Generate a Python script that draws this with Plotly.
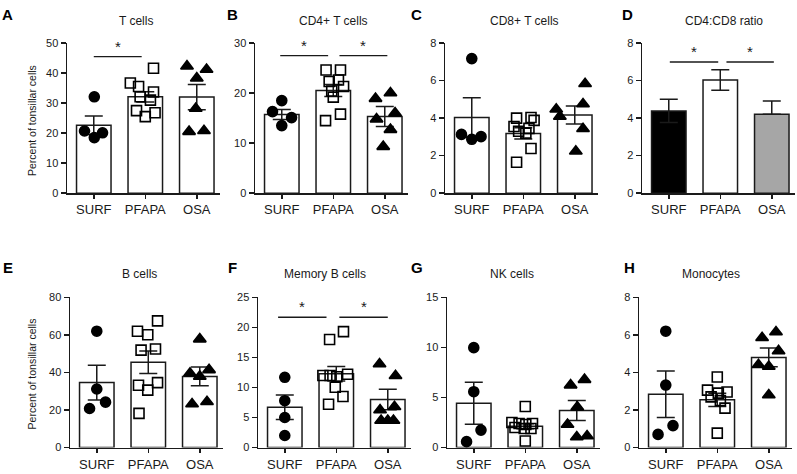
import plotly.graph_objects as go

OFF = 0
W, H = 797, 474
groups = ["SURF", "PFAPA", "OSA"]

# ---------------- data ----------------
# A  T cells
a_mean = [22.6, 32.1, 32.0]
a_sem = [3.1, 1.7, 4.2]
a_surf = [32.1, 20.7, 20.1, 18.5]
a_pfapa = [41.6, 36.7, 35.5, 33.7, 32.1, 31.0, 27.5, 26.8, 25.5]
a_osa = [42.3, 41.2, 38.3, 28.2, 20.5, 20.8]
# B  CD4+ T cells
b_mean = [15.7, 20.5, 15.3]
b_sem = [1.0, 1.2, 2.0]
b_surf = [18.5, 16.3, 15.1, 13.5]
b_pfapa = [24.6, 24.6, 22.3, 22.6, 21.3, 20.4, 19.2, 14.5, 15.8]
b_osa = [18.9, 20.0, 14.8, 12.7, 9.3, 16.0]
# C  CD8+ T cells
c_mean = [4.03, 3.18, 4.17]
c_sem = [1.05, 0.3, 0.48]
c_surf = [7.17, 3.13, 2.87, 3.01]
c_pfapa = [4.0, 4.03, 3.88, 3.55, 3.45, 3.3, 3.2, 2.38, 1.65]
c_osa = [5.83, 4.47, 4.75, 4.09, 3.43, 2.23]
# D  CD4:CD8 ratio (upper SEM only drawn on the grey bar)
d_mean = [4.38, 6.03, 4.21]
d_sem_up = [0.62, 0.55, 0.7]
d_sem_down = [0.62, 0.55, 0.0]
# E  B cells
e_mean = [34.6, 45.5, 37.9]
e_sem = [9.3, 6.0, 5.0]
e_surf = [62.0, 31.2, 24.2, 20.8]
e_pfapa = [67.5, 62.0, 60.1, 51.9, 52.5, 33.2, 34.6, 30.6, 18.2]
e_osa = [57.8, 39.6, 41.4, 37.9, 23.2, 24.4]
# F  Memory B cells
f_mean = [6.7, 12.3, 8.0]
f_sem = [2.05, 1.2, 1.7]
f_surf = [11.7, 7.8, 5.0, 2.0]
f_pfapa = [18.0, 19.3, 12.0, 12.0, 11.8, 12.2, 10.05, 7.2, 8.5]
f_osa = [13.9, 11.95, 6.25, 6.8, 4.5, 4.5, 4.5]
# G  NK cells
g_mean = [4.43, 2.13, 3.71]
g_sem = [2.1, 0.25, 1.0]
g_surf = [9.98, 5.58, 1.74, 0.59]
g_pfapa = [4.1, 2.5, 2.4, 2.3, 2.4, 2.0, 1.9, 1.9, 0.66]
g_osa = [6.24, 6.79, 4.04, 2.3, 1.05, 1.15]
# H  Monocytes
h_mean = [2.84, 2.54, 4.8]
h_sem = [1.24, 0.35, 0.5]
h_surf = [6.2, 3.33, 1.17, 0.70]
h_pfapa = [3.76, 3.06, 2.9, 2.96, 2.7, 2.5, 2.1, 0.77]
h_osa = [5.85, 6.16, 5.15, 4.41, 4.32, 2.8]

# horizontal scatter offsets (category units) of the dots
a_off = [[0.01, -0.18, 0.17, 0.01], [0.16, -0.29, -0.13, 0.16, -0.10, 0.10, -0.17, 0.19, 0.0], [-0.19, 0.19, 0.0, -0.02, -0.15, 0.14]]
b_off = [[0.0, -0.18, 0.19, 0.0], [-0.14, 0.14, -0.08, 0.10, 0.20, -0.03, 0.0, -0.15, 0.14], [-0.18, 0.11, -0.16, 0.11, -0.03, 0.2]]
c_off = [[0.0, -0.2, 0.0, 0.18], [-0.13, 0.15, 0.21, -0.18, 0.11, -0.09, 0.05, 0.15, -0.13], [0.2, -0.36, 0.16, -0.29, 0.16, 0.02]]
e_off = [[0.0, 0.0, 0.17, -0.14], [0.18, -0.21, -0.01, -0.14, 0.14, -0.19, 0.18, -0.01, -0.18], [0.0, -0.19, 0.18, 0.0, -0.15, 0.14]]
f_off = [[0.0, 0.0, 0.0, 0.0], [-0.13, 0.14, -0.26, -0.12, 0.01, 0.22, -0.02, -0.15, 0.13], [-0.16, 0.15, -0.15, 0.13, -0.13, 0.0, 0.11]]
g_off = [[0.0, 0.0, 0.14, -0.14], [0.0, -0.26, -0.12, 0.01, 0.14, -0.2, -0.02, 0.11, 0.0], [-0.12, 0.15, 0.01, -0.18, 0.0, 0.2]]
h_off = [[0.0, 0.0, 0.14, -0.15], [0.0, -0.19, 0.02, 0.19, -0.12, 0.06, 0.15, 0.0], [-0.13, 0.14, 0.19, -0.2, 0.0, 0.0]]

titles = ["T cells", "CD4+ T cells", "CD8+ T cells", "CD4:CD8 ratio",
          "B cells", "Memory B cells", "NK cells", "Monocytes"]
letters = ["A", "B", "C", "D", "E", "F", "G", "H"]
y_max = [50, 30, 8, 8, 80, 25, 15, 8]
y_dtick = [10, 10, 2, 2, 20, 5, 5, 2]

panels = [
    (a_mean, a_sem, a_sem, [a_surf, a_pfapa, a_osa], a_off),
    (b_mean, b_sem, b_sem, [b_surf, b_pfapa, b_osa], b_off),
    (c_mean, c_sem, c_sem, [c_surf, c_pfapa, c_osa], c_off),
    (d_mean, d_sem_up, d_sem_down, None, None),
    (e_mean, e_sem, e_sem, [e_surf, e_pfapa, e_osa], e_off),
    (f_mean, f_sem, f_sem, [f_surf, f_pfapa, f_osa], f_off),
    (g_mean, g_sem, g_sem, [g_surf, g_pfapa, g_osa], g_off),
    (h_mean, h_sem, h_sem, [h_surf, h_pfapa, h_osa], h_off),
]


def px(xp):
    return (xp - OFF) / W


def py(yp):
    return 1 - (yp - OFF) / H


# ---------------- layout geometry (window pixels) ----------------
x_start = [67, 255, 445, 642, 70, 258, 447, 639]
row_top = [38, 38, 38, 38, 299, 299, 299, 299]
row_bot = [192, 192, 192, 192, 453, 453, 453, 453]
unit_px = 51.5
x_lo, x_hi = -0.52, 2.45

INK = "#1a1a1a"
FONT = "Liberation Sans, Arial, sans-serif"

fig = go.Figure()
layout = dict(width=W, height=H, margin=dict(l=0, r=0, t=0, b=0),
              paper_bgcolor="white", plot_bgcolor="white", showlegend=False,
              font=dict(family=FONT, color=INK), shapes=[], annotations=[])

symbols = ["circle", "square-open", "triangle-up"]

for i, (mean, sem_up, sem_dn, pts, offs) in enumerate(panels):
    k = "" if i == 0 else str(i + 1)
    xa, ya = "x" + k, "y" + k
    x0 = x_start[i]
    x1 = min(x0 + (x_hi - x_lo) * unit_px, 796)
    layout["xaxis" + k] = dict(
        domain=[px(x0), px(x1)], range=[x_lo, x_lo + (x1 - x0) / unit_px], anchor=ya,
        tickvals=[0, 1, 2], ticktext=groups, ticks="outside", ticklen=4,
        tickwidth=1.5, tickcolor=INK, showline=True, linecolor=INK,
        linewidth=1.5, showgrid=False, zeroline=False,
        tickfont=dict(size=13, color=INK, family=FONT), fixedrange=True)
    layout["yaxis" + k] = dict(
        domain=[py(row_bot[i]), py(row_top[i])], range=[0, y_max[i]],
        anchor=xa, dtick=y_dtick[i], tick0=0, ticks="outside", ticklen=5,
        tickwidth=1.5, tickcolor=INK, showline=True, linecolor=INK,
        linewidth=1.5, showgrid=False, zeroline=False,
        tickfont=dict(size=11, color=INK, family=FONT), fixedrange=True)

    fills = ["black", "white", "#a6a6a6"] if letters[i] == "D" else ["white"] * 3
    fig.add_trace(go.Bar(
        x=[0, 1, 2], y=mean, width=0.67, xaxis=xa, yaxis=ya,
        marker=dict(color=fills, line=dict(color=INK, width=1.5)),
        error_y=dict(type="data", symmetric=False, array=sem_up,
                     arrayminus=sem_dn, color=INK, thickness=1.5, width=9)))

    if pts is not None:
        for g in range(3):
            fig.add_trace(go.Scatter(
                x=[g + o for o in offs[g]], y=pts[g], mode="markers",
                xaxis=xa, yaxis=ya, cliponaxis=False,
                marker=dict(symbol=symbols[g], size=10 if g != 2 else 11,
                            color="black", line=dict(color="black", width=1.6))))

    # title and letter
    cx = [136, 333, 524, 724, 139, 325, 512, 711][i]
    ty = 15 if i < 4 else 275
    layout["annotations"].append(dict(
        x=px(cx), y=py(ty), xref="paper", yref="paper", text=titles[i],
        showarrow=False, xanchor="center", yanchor="middle",
        font=dict(size=12, color=INK, family=FONT)))
    lx = [8, 232, 416, 627, 8, 232, 417, 629][i]
    ly = 9 if i < 4 else 268
    layout["annotations"].append(dict(
        x=px(lx), y=py(ly), xref="paper", yref="paper",
        text="<b>" + letters[i] + "</b>", showarrow=False,
        xanchor="center", yanchor="middle",
        font=dict(size=15, color="black", family=FONT)))

# y-axis titles
for yc in (117, 377):
    layout["annotations"].append(dict(
        x=px(32), y=py(yc), xref="paper", yref="paper",
        text="Percent of tonsillar cells", textangle=-90, showarrow=False,
        xanchor="center", yanchor="middle",
        font=dict(size=10.5, color=INK, family=FONT)))

# significance brackets: (panel index, x from, x to, y level)
sig = [(0, 0.0, 0.93, 45.5),
       (1, -0.03, 0.9, 27.5), (1, 1.12, 2.05, 27.5),
       (3, 0.02, 0.96, 6.99), (3, 1.12, 2.04, 6.99),
       (5, -0.13, 0.81, 21.7), (5, 1.06, 2.0, 21.7)]
for (p, sx0, sx1, sy) in sig:
    k = "" if p == 0 else str(p + 1)
    layout["shapes"].append(dict(type="line", xref="x" + k, yref="y" + k,
                                 x0=sx0, x1=sx1, y0=sy, y1=sy,
                                 line=dict(color=INK, width=1.3)))
    layout["annotations"].append(dict(
        x=(sx0 + sx1) / 2, y=sy, xref="x" + k, yref="y" + k, text="*",
        showarrow=False, xanchor="center", yanchor="bottom", yshift=0,
        font=dict(size=15, color=INK, family=FONT)))

fig.update_layout(**layout)
fig.write_html("out.html",
               config={"displayModeBar": False, "staticPlot": True},
               post_script="document.body.style.margin='0px';"
                           "document.body.style.overflow='hidden';")
